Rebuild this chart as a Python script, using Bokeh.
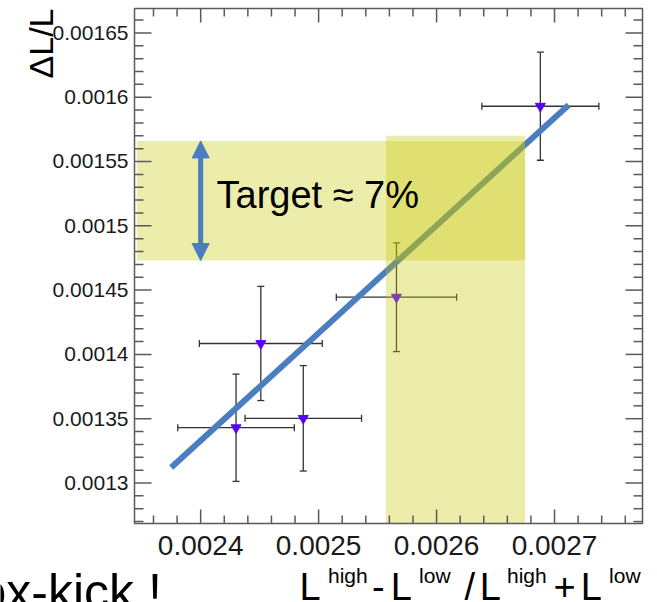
import math
from bokeh.plotting import figure
from bokeh.core.properties import value
from bokeh.models import (Range1d, Whisker, TeeHead, ColumnDataSource, Arrow, NormalHead)
from bokeh.embed import file_html
from bokeh.resources import INLINE

# ---------------- data ----------------
x_vals = [0.002430, 0.002451, 0.002487, 0.002566, 0.002688]
y_vals = [0.001343, 0.0014085, 0.0013503, 0.0014445, 0.001593]
x_err = [0.0000494, 0.0000521, 0.0000494, 0.0000510, 0.0000496]
y_err = [0.0000417, 0.0000444, 0.0000410, 0.0000423, 0.0000420]

fit_x = [0.002375, 0.002712]
fit_y = [0.001312, 0.001594]

# target regions
band_h_x = [0.002346, 0.002675]
band_h_y = [0.001473, 0.001566]
band_v_x = [0.002557, 0.002675]
band_v_top = 0.001570
arrow_x = 0.0024
arrow_y = [0.001473, 0.001566]

x_tick_values = [0.0024, 0.0025, 0.0026, 0.0027]
x_tick_labels = ["0.0024", "0.0025", "0.0026", "0.0027"]
y_tick_values = [0.0013, 0.00135, 0.0014, 0.00145, 0.0015, 0.00155, 0.0016, 0.00165]
y_tick_labels = ["0.0013", "0.00135", "0.0014", "0.00145", "0.0015", "0.00155", "0.0016", "0.00165"]
x_minor_step = 0.00002
y_minor_step = 0.00001

# axis limits of the plot box
x_lim = (0.0023439, 0.0027746)
y_lim = (0.0012685, 0.0016690)

y_title = "\u0394L/L"
target_text = "Target \u2248 7%"
# x title pieces: (text, is_superscript)
x_title_parts = [("L", False), ("high", True), ("-", False), ("L", False), ("low", True),
                 ("/", False), ("L", False), ("high", True), ("+", False), ("L", False),
                 ("low", True)]
x_title_px = [299, 327.5, 371.5, 390.3, 418.6, 464, 479.3, 506.5, 553, 580.3, 608.6]
side_text = "ox-kick !"

# ---------------- layout (pixels) ----------------
W, H = 657, 602
BOX_L, BOX_R, BOX_T, BOX_B = 134, 642, 8, 523
MID = 0.36  # distance (in em) from the text anchor to the drawn baseline

FONT = "Liberation Sans"
AX = "#5a5a5a"
BLUE = "#4a7ec0"

sx = (x_lim[1] - x_lim[0]) / (BOX_R - BOX_L)   # data units per pixel
sy = (y_lim[1] - y_lim[0]) / (BOX_B - BOX_T)

p = figure(width=W, height=H, output_backend="svg", toolbar_location=None,
           x_range=Range1d(x_lim[0] - BOX_L * sx, x_lim[1] + (W - BOX_R) * sx),
           y_range=Range1d(y_lim[0] - (H - BOX_B) * sy, y_lim[1] + BOX_T * sy),
           x_axis_location=None, y_axis_location=None, min_border=0,
           background_fill_color="white", border_fill_color="white")
p.grid.visible = False
p.outline_line_color = None


def X(px):
    return x_lim[0] + (px - BOX_L) * sx


def Y(py):
    return y_lim[0] + (BOX_B - py) * sy


# ---------------- data marks ----------------
src = ColumnDataSource(dict(
    x=x_vals, y=y_vals,
    xl=[a - e for a, e in zip(x_vals, x_err)], xu=[a + e for a, e in zip(x_vals, x_err)],
    yl=[a - e for a, e in zip(y_vals, y_err)], yu=[a + e for a, e in zip(y_vals, y_err)],
))

EB = "#333333"
for base, lo, hi, dim in [("x", "yl", "yu", "height"), ("y", "xl", "xu", "width")]:
    w = Whisker(source=src, base=base, lower=lo, upper=hi, dimension=dim,
                line_color=EB, line_width=1.3,
                lower_head=TeeHead(size=7, line_color=EB, line_width=1.3),
                upper_head=TeeHead(size=7, line_color=EB, line_width=1.3))
    w.level = "underlay"
    p.add_layout(w)

p.scatter("x", "y", source=src, marker="inverted_triangle", size=10,
          fill_color="#5a00ff", line_color="#5a00ff")

p.line(fit_x, fit_y, line_width=6, color=BLUE, line_cap="butt")

# target bands, semi-transparent over the fit
p.quad(left=[band_h_x[0], band_v_x[0]], right=[band_h_x[1], band_v_x[1]],
       bottom=[band_h_y[0], y_lim[0]], top=[band_h_y[1], band_v_top],
       fill_color="#c6c600", fill_alpha=0.33, line_color=None)

p.add_layout(Arrow(x_start=arrow_x, y_start=arrow_y[0], x_end=arrow_x, y_end=arrow_y[1],
                   line_color=BLUE, line_width=5,
                   start=NormalHead(size=17, fill_color=BLUE, line_color=BLUE, line_width=1),
                   end=NormalHead(size=17, fill_color=BLUE, line_color=BLUE, line_width=1)))

# ---------------- plot box and ticks (ROOT style, ticks inside) ----------------
p.quad(left=[x_lim[0]], right=[x_lim[1]], bottom=[y_lim[0]], top=[y_lim[1]],
       fill_color=None, line_color=AX, line_width=1.5)

x_minor = [round(x_tick_values[0] + k * x_minor_step, 7) for k in range(-5, 20)]
x_minor = [t for t in x_minor if x_lim[0] < t < x_lim[1] and t not in x_tick_values]
y_minor = [round(y_tick_values[0] + k * y_minor_step, 7) for k in range(-5, 40)]
y_minor = [t for t in y_minor if y_lim[0] < t < y_lim[1] and t not in y_tick_values]


def xticks(ticks, length):
    n = len(ticks)
    p.segment(x0=ticks, x1=ticks, y0=[y_lim[0]] * n, y1=[y_lim[0] + length * sy] * n,
              line_color=AX, line_width=1.5)
    p.segment(x0=ticks, x1=ticks, y0=[y_lim[1]] * n, y1=[y_lim[1] - length * sy] * n,
              line_color=AX, line_width=1.5)


def yticks(ticks, length):
    n = len(ticks)
    p.segment(y0=ticks, y1=ticks, x0=[x_lim[0]] * n, x1=[x_lim[0] + length * sx] * n,
              line_color=AX, line_width=1.5)
    p.segment(y0=ticks, y1=ticks, x0=[x_lim[1]] * n, x1=[x_lim[1] - length * sx] * n,
              line_color=AX, line_width=1.5)


xticks(x_tick_values, 14)
xticks(x_minor, 8)
yticks(y_tick_values, 17)
yticks(y_minor, 9)

# tick labels (baseline of x labels at y=555 px; y labels centred on their ticks)
p.text(x=x_tick_values, y=[Y(555 - MID * 28)] * len(x_tick_values), text=x_tick_labels,
       text_align="center", text_baseline="alphabetic", text_font=value(FONT),
       text_font_size="28px", text_color="#1a1a1a")
p.text(x=[X(128)] * len(y_tick_values), y=[t + (MID * 21 - 7.5) * sy for t in y_tick_values],
       text=y_tick_labels, text_align="right", text_baseline="alphabetic",
       text_font=value(FONT), text_font_size="21px", text_color="#1a1a1a")


def txt(s, px, py, size, rotated=False, **kw):
    """px, py: left (or right) end and baseline of the text, in pixels."""
    if rotated:
        x, y = X(px - MID * size), Y(py)
        kw["angle"] = math.pi / 2
    else:
        x, y = X(px), Y(py - MID * size)
    p.text(x=[x], y=[y], text=[s], text_baseline="alphabetic", text_font=value(FONT),
           text_font_size=f"{size}px", text_color="black", **kw)


# titles and annotation text
txt(y_title, 53, BOX_T, 34, rotated=True, text_align="right")
txt(target_text, 216, 208, 38, text_align="left")
for (t, sup), xp in zip(x_title_parts, x_title_px):
    txt(t, xp, 583 if sup else 600, 21 if sup else 38, text_align="left")
txt(side_text, -22, 609, 50, text_align="left")

open("out.html", "w").write(file_html(p, INLINE))
